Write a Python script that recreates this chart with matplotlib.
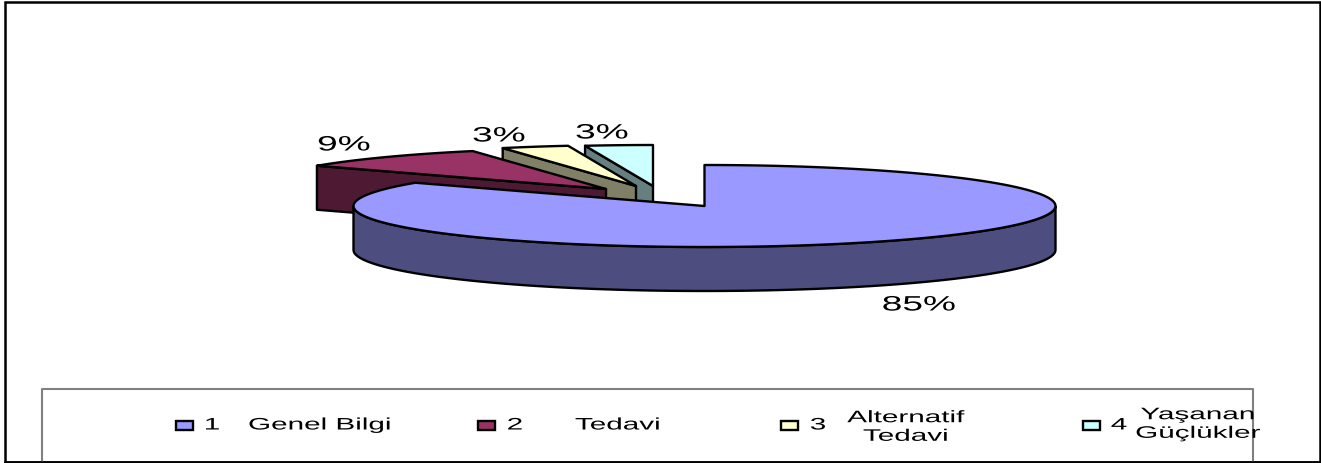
"""
Exploded 3D style pie (Genel Bilgi / Tedavi / Alternatif Tedavi / Yasanan Gucluk).
Drawn by hand on one pixel-sized axes, matplotlib has no 3D pie.
"""
import numpy as np
import matplotlib
matplotlib.use("Agg")
import matplotlib.pyplot as plt
from matplotlib.patches import Polygon, Rectangle
from matplotlib.patheffects import AbstractPathEffect
from matplotlib.transforms import Affine2D

plt.rcParams["font.family"] = ["Liberation Sans", "DejaVu Sans"]

# data
numbers = ["1", "2", "3", "4"]
categories = ["Genel Bilgi", "Tedavi", "Alternatif\nTedavi", "Yaşanan\nGüçlükler"]
values = [84.6, 9.2, 3.1, 3.1]

top_colors = ["#9999FF", "#993366", "#FFFFCC", "#CCFFFF"]
side_colors = ["#4D4D80", "#4D1933", "#808066", "#668080"]

# layout, in pixels of the 1321x464 picture
W, H = 1321, 464
RX, RY, DEPTH = 351, 41, 44
CENTER = (704.5, 207)
apexes = [CENTER, (606, 190), (636, 187), (653, 187)]
pct_pos = [(919, 306), (344, 146), (499, 137), (602, 134)]
swatch_x = [176, 478, 781, 1083]
number_x = [212, 515, 818, 1119]
number_y = 426
label_pos = [(320, 426), (618, 426), (906, 428), (1198, 425)]
STRETCH = 1.78
LW = 1.7


class StretchX(AbstractPathEffect):
    """Widen the glyphs around x0, the source has horizontally squashed-out text."""

    def __init__(self, x0, sx=STRETCH):
        super().__init__()
        self.x0, self.sx = x0, sx

    def draw_path(self, renderer, gc, tpath, affine, rgbFace=None):
        wide = affine + Affine2D().translate(-self.x0, 0).scale(self.sx, 1).translate(self.x0, 0)
        renderer.draw_path(gc, tpath, wide, rgbFace)


def wide_text(ax, x, y, s, size, **kw):
    return ax.text(x, y, s, fontsize=size, ha="center", va="center", color="black",
                   path_effects=[StretchX(x)], **kw)


def arc(apex, a0, a1, n=80):
    t = np.radians(np.linspace(a0, a1, n))
    return np.column_stack([apex[0] + RX * np.sin(t), apex[1] - RY * np.cos(t)])


fig = plt.figure(figsize=(W / 100, H / 100), dpi=100)
ax = fig.add_axes([0, 0, 1, 1])
ax.set_xlim(0, W)
ax.set_ylim(H, 0)
ax.axis("off")

# outer frame
ax.add_patch(Rectangle((5, 3), 1315, 460, fc="white", ec="black", lw=1.8))

angles = np.cumsum([0] + [v * 3.6 for v in values])

# back to front so the big slice covers the feet of the small ones
for i in [3, 2, 1]:
    a0, a1 = angles[i], angles[i + 1]
    apex = apexes[i]
    outer = arc(apex, a0, a0, 1)[0]
    face = [apex, outer, outer + [0, DEPTH], (apex[0], apex[1] + DEPTH)]
    ax.add_patch(Polygon(face, fc=side_colors[i], ec="black", lw=LW, joinstyle="round"))
    top = np.vstack([[apex], arc(apex, a0, a1)])
    ax.add_patch(Polygon(top, fc=top_colors[i], ec="black", lw=LW, joinstyle="round"))

# big slice: front wall first, then the top
front = arc(apexes[0], 90, 270)
wall = np.vstack([front, (front + [0, DEPTH])[::-1]])
ax.add_patch(Polygon(wall, fc=side_colors[0], ec="black", lw=LW))
top = np.vstack([[apexes[0]], arc(apexes[0], angles[0], angles[1], 240)])
ax.add_patch(Polygon(top, fc=top_colors[0], ec="black", lw=LW, joinstyle="round"))

for v, (x, y) in zip(values, pct_pos):
    wide_text(ax, x, y, f"{v:.0f}%", 15)

# legend box, gray on top and sides
ax.plot([42, 42, 1253, 1253], [463, 389.5, 389.5, 463], color="#808080", lw=1.5)
ax.plot([5, 1320], [463, 463], color="black", lw=1.8)

for i in range(4):
    ax.add_patch(Rectangle((swatch_x[i], 422), 17, 9, fc=top_colors[i], ec="black", lw=1.7))
    wide_text(ax, number_x[i], number_y, numbers[i], 12)
    x, y = label_pos[i]
    wide_text(ax, x, y, categories[i], 12, linespacing=1.3)

fig.savefig("out.png", dpi=100)
